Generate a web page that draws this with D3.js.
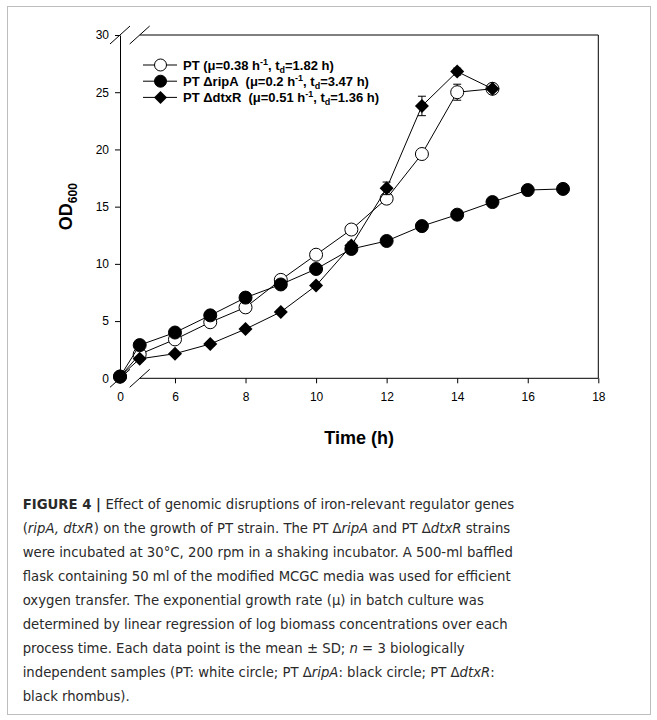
<!DOCTYPE html>
<html>
<head>
<meta charset="utf-8">
<script src="https://cdn.jsdelivr.net/npm/d3@7"></script>
<style>
  body { margin: 0; background: #fff; }
  svg { display: block; }
  .axis text { font-family: 'Liberation Sans', Arial, sans-serif; font-size: 12px; fill: #000; }
  .axis line, .axis path { stroke: #000; }
</style>
</head>
<body>
<svg id="chart" width="657" height="720"></svg>
<script>
'use strict';

// sampling times (h); 0 sits before the axis break
const times = [0, 5, 6, 7, 8, 9, 10, 11, 12, 13, 14, 15, 16, 17];

// OD600 per strain (mean and SD)
const ptValues = [0.15, 2.1, 3.4, 4.9, 6.2, 8.6, 10.8, 13.0, 15.7, 19.6, 25.0, 25.3];
const ptSd = [0.05, 0.2, 0.2, 0.2, 0.2, 0.2, 0.2, 0.2, 0.3, 0.3, 0.7, 0.2];
const ripAValues = [0.15, 2.9, 4.0, 5.5, 7.05, 8.2, 9.55, 11.3, 12.0, 13.3, 14.3, 15.4, 16.45, 16.55];
const ripASd = [0.05, 0.2, 0.2, 0.2, 0.2, 0.2, 0.2, 0.2, 0.2, 0.2, 0.2, 0.2, 0.2, 0.2];
const dtxRValues = [0.15, 1.7, 2.15, 3.0, 4.3, 5.8, 8.1, 11.6, 16.6, 23.8, 26.8, 25.3];
const dtxRSd = [0.05, 0.2, 0.2, 0.2, 0.2, 0.2, 0.2, 0.3, 0.55, 0.85, 0.3, 0.2];

const xTicks = [0, 6, 8, 10, 12, 14, 16, 18];
const yTicks = [0, 5, 10, 15, 20, 25, 30];

// legend pieces: name, rate text, superscript, ', t', subscript, rest
const legendLabels = [
  ['PT', '(\u03bc=0.38 h', '-1', ', t', 'd', '=1.82 h)'],
  ['PT \u0394ripA', '(\u03bc=0.2 h', '-1', ', t', 'd', '=3.47 h)'],
  ['PT \u0394dtxR', '(\u03bc=0.51 h', '-1', ', t', 'd', '=1.36 h)']
];

// caption lines: [text, style] pieces, b = bold, i = italic
const captionLines = [
  [['FIGURE 4 | ', 'b'], ['Effect of genomic disruptions of iron-relevant regulator genes', '']],
  [['(', ''], ['ripA, dtxR', 'i'], [') on the growth of PT strain. The PT \u0394', ''], ['ripA', 'i'], [' and PT \u0394', ''], ['dtxR', 'i'], [' strains', '']],
  [['were incubated at 30\u00b0C, 200 rpm in a shaking incubator. A 500-ml baffled', '']],
  [['flask containing 50 ml of the modified MCGC media was used for efficient', '']],
  [['oxygen transfer. The exponential growth rate (\u03bc) in batch culture was', '']],
  [['determined by linear regression of log biomass concentrations over each', '']],
  [['process time. Each data point is the mean \u00b1 SD; ', ''], ['n', 'i'], [' = 3 biologically', '']],
  [['independent samples (PT: white circle; PT \u0394', ''], ['ripA', 'i'], [': black circle; PT \u0394', ''], ['dtxR', 'i'], [':', '']],
  [['black rhombus).', '']]
];

const svg = d3.select('#chart');
const font = "'Liberation Sans', Arial, sans-serif";

// outer figure frame
svg.append('rect')
  .attr('x', 7.5).attr('y', 6.5).attr('width', 643).attr('height', 708)
  .style('fill', 'none').style('stroke', '#bdbdbd').style('stroke-width', 1);

let x = d3.scaleLinear().domain([0, 5, 18]).range([120, 139.7, 598.3]);
let y = d3.scaleLinear().domain([0, 30]).range([378.3, 35]);

let plot = svg.append('g');

// frame lines (broken between 0 and 5 h)
let frame = plot.append('g').style('stroke', '#000').style('stroke-width', 1);
frame.append('line').attr('x1', x(5)).attr('x2', x(18)).attr('y1', y(0)).attr('y2', y(0));
frame.append('line').attr('x1', x(5)).attr('x2', x(18)).attr('y1', y(30)).attr('y2', y(30));
frame.append('line').attr('x1', x(18)).attr('x2', x(18)).attr('y1', y(0)).attr('y2', y(30));

[0, 5].forEach(t => {
  [0, 30].forEach(v => {
    frame.append('line')
      .attr('x1', x(t) - 10).attr('y1', y(v) + 9)
      .attr('x2', x(t) + 10).attr('y2', y(v) - 9);
  });
});

let xAxis = d3.axisBottom(x).tickValues(xTicks).tickSize(5).tickPadding(9);
plot.append('g').classed('axis', true)
  .attr('transform', `translate(0,${y(0)})`).call(xAxis)
  .call(g => g.select('.domain').remove());

let yAxis = d3.axisLeft(y).tickValues(yTicks).tickSize(5).tickPadding(6).tickSizeOuter(0);
plot.append('g').classed('axis', true)
  .attr('transform', `translate(${x(0)},0)`).call(yAxis);

// axis titles, centred on the whole axis length
svg.append('text')
  .attr('x', (x(0) + x(18)) / 2).attr('y', 444)
  .attr('text-anchor', 'middle')
  .style('font-family', font).style('font-weight', 'bold').style('font-size', '18px')
  .text('Time (h)');

let yTitle = svg.append('text')
  .attr('transform', `translate(72,${(y(0) + y(30)) / 2}) rotate(-90)`)
  .attr('text-anchor', 'middle')
  .style('font-family', font).style('font-weight', 'bold').style('font-size', '18px');
yTitle.append('tspan').text('OD');
yTitle.append('tspan').attr('dy', 5).style('font-size', '12px').text('600');

let series = [
  { values: ptValues, sd: ptSd, marker: 'open' },
  { values: ripAValues, sd: ripASd, marker: 'filled' },
  { values: dtxRValues, sd: dtxRSd, marker: 'diamond' }
];

let lineGen = d3.line().x(d => x(d.t)).y(d => y(d.v));
let diamond = d3.symbol().type(d3.symbolSquare);

function drawMarker(g, type, r) {
  if (type === 'diamond') {
    g.append('path').attr('d', diamond.size(r * r * 2)())
      .attr('transform', 'rotate(45)')
      .style('fill', '#000');
  } else {
    g.append('circle').attr('r', r)
      .style('fill', type === 'open' ? '#fff' : '#000')
      .style('stroke', '#000').style('stroke-width', 1);
  }
}

series.forEach(s => {
  let pts = s.values.map((v, i) => ({ t: times[i], v: v, sd: s.sd[i] }));
  let g = plot.append('g');

  g.append('path').datum(pts).attr('d', lineGen)
    .style('fill', 'none').style('stroke', '#000').style('stroke-width', 1);

  let bars = g.selectAll('.err').data(pts).enter().append('g').classed('err', true)
    .style('stroke', '#000').style('stroke-width', 1);
  bars.append('line')
    .attr('x1', d => x(d.t)).attr('x2', d => x(d.t))
    .attr('y1', d => y(d.v - d.sd)).attr('y2', d => y(d.v + d.sd));
  bars.append('line')
    .attr('x1', d => x(d.t) - 4).attr('x2', d => x(d.t) + 4)
    .attr('y1', d => y(d.v + d.sd)).attr('y2', d => y(d.v + d.sd));
  bars.append('line')
    .attr('x1', d => x(d.t) - 4).attr('x2', d => x(d.t) + 4)
    .attr('y1', d => y(d.v - d.sd)).attr('y2', d => y(d.v - d.sd));

  g.selectAll('.pt').data(pts).enter().append('g').classed('pt', true)
    .attr('transform', d => `translate(${x(d.t)},${y(d.v)})`)
    .each(function () { drawMarker(d3.select(this), s.marker, s.marker === 'diamond' ? 7 : 6.5); });
});

// legend
let legend = svg.append('g').attr('transform', 'translate(143,65)');
legendLabels.forEach((parts, i) => {
  let row = legend.append('g').attr('transform', `translate(0,${i * 16.2})`);
  row.append('line').attr('x1', 0).attr('x2', 34).attr('y1', 0).attr('y2', 0)
    .style('stroke', '#000').style('stroke-width', 1);
  let m = row.append('g').attr('transform', 'translate(17.5,0)');
  drawMarker(m, series[i].marker, series[i].marker === 'diamond' ? 6.5 : 6);

  let t = row.append('text').attr('x', 40).attr('y', 4.5)
    .style('font-family', font).style('font-weight', 'bold').style('font-size', '13px');
  t.append('tspan').text(parts[0]);
  t.append('tspan').attr('dx', i === 0 ? 3.6 : 7).text(parts[1]);
  t.append('tspan').attr('dy', -4.5).style('font-size', '9px').text(parts[2]);
  t.append('tspan').attr('dy', 4.5).text(parts[3]);
  t.append('tspan').attr('dy', 3).style('font-size', '9px').text(parts[4]);
  t.append('tspan').attr('dy', -3).text(parts[5]);
});

// caption, sized so its longest line spans the same width as the figure text
let caption = svg.append('g')
  .style('font-family', "'Liberation Sans Narrow', 'DejaVu Sans Condensed', 'Liberation Sans', sans-serif")
  .style('font-size', '17px').style('fill', '#2a2a2a');
let captionText = captionLines.map((pieces, i) => {
  let t = caption.append('text').attr('x', 22.7).attr('y', 509 + i * 24)
    .style('white-space', 'pre');
  pieces.forEach(p => {
    t.append('tspan')
      .style('font-weight', p[1] === 'b' ? 'bold' : 'normal')
      .style('font-style', p[1] === 'i' ? 'italic' : 'normal')
      .text(p[0]);
  });
  return t;
});
let widest = d3.max(captionText, t => t.node().getComputedTextLength());
caption.style('font-size', `${(17 * 492 / widest).toFixed(2)}px`);
</script>
</body>
</html>
